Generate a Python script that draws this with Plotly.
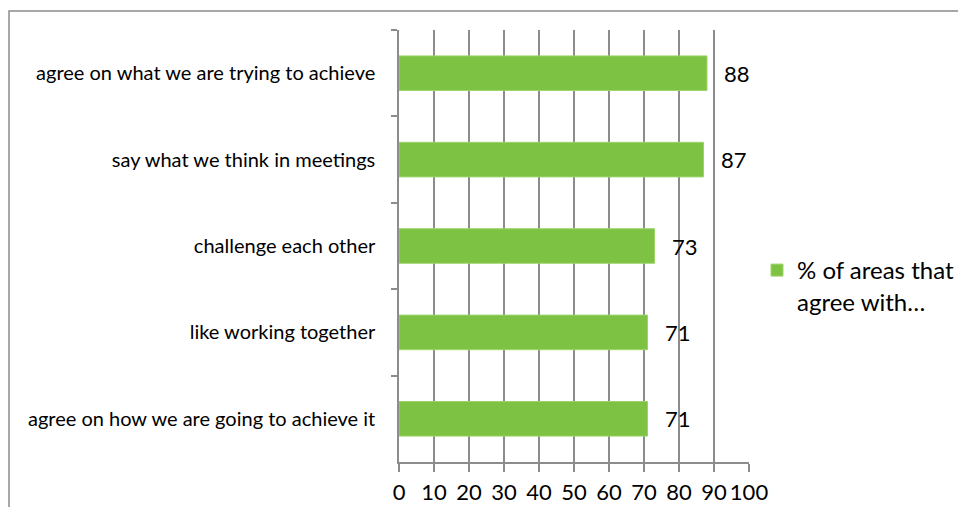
import plotly.graph_objects as go

categories = [
    "agree on what we are trying to achieve",
    "say what we think in meetings",
    "challenge each other",
    "like working together",
    "agree on how we are going to achieve it",
]
values = [88, 87, 73, 71, 71]
series_name = "% of areas that<br>agree with…"
x_ticks = [0, 10, 20, 30, 40, 50, 60, 70, 80, 90, 100]

# page body has an 8px margin: figure pixel = screen pixel - 8
OFF = 8
W, H = 966 - OFF, 507 - OFF
L, T = 399 - OFF, 30 - OFF
R = W - (749 - OFF)
B = H - (462 - OFF)
pw, ph = W - L - R, H - T - B

def sx(px):
    return (px - OFF - L) / pw

def sy(py):
    return (H - B - (py - OFF)) / ph

fig = go.Figure()
fig.add_trace(go.Bar(
    x=values, y=categories, orientation="h",
    marker=dict(color="#7DC243", line=dict(color="#9CD46A", width=1)),
    name=series_name, showlegend=True,
))

for c, v in zip(categories, values):
    fig.add_annotation(x=v, y=c, text=str(v), showarrow=False,
                       xanchor="left", xshift=15,
                       font=dict(family="Lato", size=22, color="#000"))

GRID = "#8c8c8c"
fig.update_layout(
    width=W, height=H,
    margin=dict(l=L, r=R, t=T, b=B, autoexpand=False),
    paper_bgcolor="white", plot_bgcolor="white",
    bargap=0.6,
    font=dict(family="Lato", color="#000"),
    legend=dict(x=sx(757), y=sy(248), xanchor="left", yanchor="top",
                font=dict(size=24, family="Lato"), valign="top",
                bgcolor="rgba(0,0,0,0)", itemwidth=30),
    xaxis=dict(range=[0, 100], tickvals=x_ticks, ticktext=[str(t) for t in x_ticks],
               showgrid=True, gridcolor=GRID, gridwidth=1.5,
               showline=True, linecolor=GRID, linewidth=1.5,
               ticks="outside", ticklen=8, tickcolor=GRID, tickwidth=1.5,
               tickfont=dict(size=22, family="Lato"), zeroline=False,
               ticklabelstandoff=2, fixedrange=True),
    yaxis=dict(autorange="reversed", type="category",
               showline=True, linecolor=GRID, linewidth=1.5,
               ticks="outside", ticklen=6, tickcolor=GRID, tickwidth=1.5,
               tickson="boundaries", showgrid=False,
               tickfont=dict(size=20, family="Lato"), ticklabelstandoff=18),
    shapes=[
        dict(type="rect", xref="paper", yref="paper",
             x0=sx(9), x1=sx(1000),
             y0=sy(560), y1=sy(11),
             line=dict(color="#8c8c8c", width=1.5), fillcolor="rgba(0,0,0,0)", layer="below"),
    ],
)

fig.write_html("out.html")
